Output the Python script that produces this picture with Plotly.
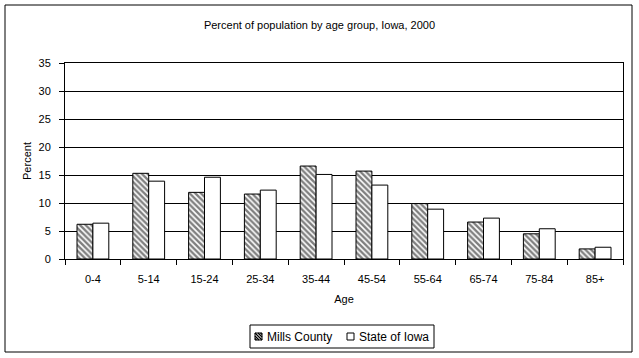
import plotly.graph_objects as go

categories = ["0-4", "5-14", "15-24", "25-34", "35-44", "45-54", "55-64", "65-74", "75-84", "85+"]
mills_county = [6.2, 15.3, 11.9, 11.6, 16.6, 15.7, 9.9, 6.6, 4.5, 1.8]
state_of_iowa = [6.4, 13.9, 14.6, 12.3, 15.1, 13.2, 8.9, 7.3, 5.4, 2.1]
series_names = ["Mills County", "State of Iowa"]

FONT = "Liberation Sans, Arial, sans-serif"

fig = go.Figure()
fig.add_trace(go.Bar(
    x=categories, y=mills_county, name=series_names[0], showlegend=False,
    marker=dict(color="white", line=dict(color="black", width=1),
                pattern=dict(shape="\\", fgcolor="black", bgcolor="white", size=4, solidity=0.6)),
))
fig.add_trace(go.Bar(
    x=categories, y=state_of_iowa, name=series_names[1], showlegend=False,
    marker=dict(color="white", line=dict(color="black", width=1)),
))

W, H = 639, 358
PL, PR, PT, PB = 65, 623, 63, 259  # plot area in pixels


def px(x):
    return x / W


def py(y):
    return 1 - y / H


line_k = dict(color="black", width=1)
shapes = [
    # outer chart border
    dict(type="rect", xref="paper", yref="paper", x0=px(5), x1=px(632), y0=py(352), y1=py(5),
         line=line_k, fillcolor="rgba(0,0,0,0)", layer="below"),
    # legend box
    dict(type="rect", xref="paper", yref="paper", x0=px(250), x1=px(434), y0=py(348), y1=py(325),
         line=line_k, fillcolor="white", layer="above"),
    # legend swatch: Mills County (hatched)
    dict(type="rect", xref="paper", yref="paper", x0=px(255), x1=px(262), y0=py(340), y1=py(333),
         line=line_k, fillcolor="white", layer="above"),
    # legend swatch: State of Iowa
    dict(type="rect", xref="paper", yref="paper", x0=px(347), x1=px(354), y0=py(340), y1=py(333),
         line=line_k, fillcolor="white", layer="above"),
]
# hatch lines inside Mills swatch
for (x0, y0, x1, y1) in [(255, 333, 262, 340), (255, 336, 259, 340), (258, 333, 262, 337),
                         (255, 338.5, 256.5, 340), (260.5, 333, 262, 334.5)]:
    shapes.append(dict(type="line", xref="paper", yref="paper", x0=px(x0), y0=py(y0),
                       x1=px(x1), y1=py(y1), line=dict(color="black", width=1.3), layer="above"))

annotations = [
    dict(text=series_names[0], xref="paper", yref="paper", x=px(265), y=py(336.5),
         xanchor="left", yanchor="middle", showarrow=False, font=dict(family=FONT, size=12)),
    dict(text=series_names[1], xref="paper", yref="paper", x=px(357), y=py(336.5),
         xanchor="left", yanchor="middle", showarrow=False, font=dict(family=FONT, size=12)),
]

fig.update_layout(
    width=W, height=H,
    margin=dict(l=0, r=0, t=0, b=0, autoexpand=False),
    paper_bgcolor="white", plot_bgcolor="white",
    font=dict(family=FONT, size=11, color="black"),
    barmode="group", bargap=0.43, bargroupgap=0,
    showlegend=False,
    title=dict(text="Percent of population by age group, Iowa, 2000",
               x=0.5, xanchor="center", y=1 - 25 / H, yanchor="middle",
               font=dict(family=FONT, size=11, color="black")),
    xaxis=dict(
        domain=[px(PL), px(PR)],
        type="category", showline=True, linecolor="black", linewidth=1, mirror=True,
        ticks="outside", tickson="boundaries", ticklen=5, tickcolor="black",
        showgrid=False, ticklabelstandoff=10,
        title=dict(text="Age", standoff=11, font=dict(family=FONT, size=11)),
    ),
    yaxis=dict(
        domain=[py(PB), py(PT)],
        range=[0, 35], dtick=5, showline=True, linecolor="black", linewidth=1, mirror=True,
        ticks="outside", ticklen=5, tickcolor="black",
        showgrid=True, gridcolor="black", gridwidth=1,
        zeroline=False, ticklabelstandoff=6,
        title=dict(text="Percent", standoff=4, font=dict(family=FONT, size=11)),
    ),
    shapes=shapes,
    annotations=annotations,
)

fig.write_html("out.html", config={"displayModeBar": False},
               post_script="document.body.style.margin='0';document.body.style.padding='0';")
